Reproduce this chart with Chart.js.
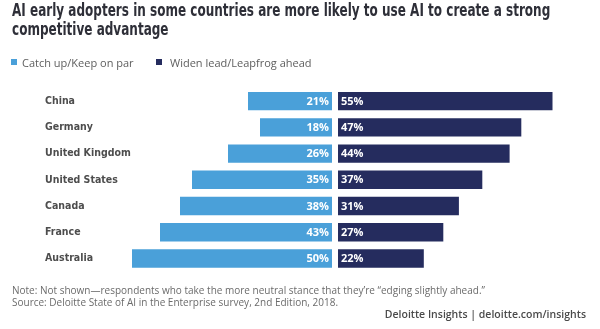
<!DOCTYPE html>
<html>
<head>
<meta charset="utf-8">
<script src="https://cdn.jsdelivr.net/npm/chart.js@4.4.1/dist/chart.umd.min.js"></script>
<style>
  html, body { margin: 0; padding: 0; background: #fff; }
  #wrap { position: relative; width: 600px; height: 329px; overflow: hidden; font-family: "Open Sans", sans-serif; }
  #chart { position: absolute; left: 0; top: 0; }
  .title { position: absolute; left: 12px; font-family: "Liberation Sans Narrow", "DejaVu Sans Condensed", sans-serif;
           font-weight: bold; font-size: 17px; line-height: 19px; color: #2e2f38; white-space: nowrap;
           transform-origin: left center; display: inline-block; }
  .legend { position: absolute; top: 55px; font-size: 11px; line-height: 15px; color: #5e5e5e; white-space: nowrap; }
  .legend i { position: absolute; top: 4px; width: 6px; height: 6px; }
  .legend span { position: absolute; top: 0; }
  .note { position: absolute; left: 12px; font-size: 10px; line-height: 12px; color: #6b6b6b; white-space: nowrap; }
  .brand { position: absolute; right: 14px; top: 308px; font-size: 10.5px; line-height: 12px; font-weight: 600; color: #4a4a4a; white-space: nowrap; }
</style>
</head>
<body>
<div id="wrap">
  <canvas id="chart" width="600" height="329"></canvas>
  <div class="title" id="t1" style="top:1px">AI early adopters in some countries are more likely to use AI to create a strong</div>
  <div class="title" id="t2" style="top:20px">competitive advantage</div>
  <div class="legend" style="left:0">
    <i style="left:11px;background:#4aa0d9"></i><span style="left:22px">Catch up/Keep on par</span>
    <i style="left:156px;background:#252c5e"></i><span style="left:170px">Widen lead/Leapfrog ahead</span>
  </div>
  <div class="note" style="top:284px">Note: Not shown—respondents who take the more neutral stance that they’re “edging slightly ahead.”</div>
  <div class="note" style="top:296px">Source: Deloitte State of AI in the Enterprise survey, 2nd Edition, 2018.</div>
  <div class="brand">Deloitte Insights | deloitte.com/insights</div>
</div>
<script>
const countries = ['China', 'Germany', 'United Kingdom', 'United States', 'Canada', 'France', 'Australia'];
const catchUp = [21, 18, 26, 35, 38, 43, 50];
const widenLead = [55, 47, 44, 37, 31, 27, 22];
const seriesNames = ['Catch up/Keep on par', 'Widen lead/Leapfrog ahead'];

const lightBlue = '#4aa0d9';
const navy = '#252c5e';
const narrowFont = "'Liberation Sans Narrow', 'DejaVu Sans Condensed', sans-serif";

// squeeze both title lines by the same factor so line one fits its width
const t1 = document.getElementById('t1');
const sx = 538 / t1.offsetWidth;
t1.style.transform = 'scaleX(' + sx + ')';
document.getElementById('t2').style.transform = 'scaleX(' + sx + ')';

// percentage labels written inside each bar, next to the centre line
const barLabels = {
  id: 'barLabels',
  afterDatasetsDraw(chart) {
    const ctx = chart.ctx;
    ctx.save();
    ctx.font = 'bold 11px "Open Sans", sans-serif';
    ctx.fillStyle = '#fff';
    ctx.textBaseline = 'middle';
    chart.data.datasets.forEach((ds, di) => {
      const meta = chart.getDatasetMeta(di);
      meta.data.forEach((bar, i) => {
        const txt = ds.data[i] + '%';
        if (di === 0) {
          ctx.textAlign = 'right';
          ctx.fillText(txt, bar.base - 3, bar.y + 0.5);
        } else {
          ctx.textAlign = 'left';
          ctx.fillText(txt, bar.base + 3, bar.y + 0.5);
        }
      });
    });
    ctx.restore();
  }
};

new Chart(document.getElementById('chart'), {
  type: 'bar',
  data: {
    labels: countries,
    datasets: [
      {
        label: seriesNames[0],
        data: catchUp,
        xAxisID: 'xl',
        backgroundColor: lightBlue,
        grouped: false,
        barPercentage: 0.7,
        categoryPercentage: 1
      },
      {
        label: seriesNames[1],
        data: widenLead,
        xAxisID: 'xr',
        backgroundColor: navy,
        grouped: false,
        barPercentage: 0.7,
        categoryPercentage: 1
      }
    ]
  },
  options: {
    indexAxis: 'y',
    responsive: false,
    animation: false,
    layout: { padding: { left: 45, right: 20, top: 88, bottom: 57.4 } },
    scales: {
      // left half runs leftwards from its own zero, right half rightwards, small gap between
      xl: { type: 'linear', position: 'bottom', display: false, reverse: true, min: -62, max: 50.25 },
      xr: { type: 'linear', position: 'bottom', display: false, min: -53.08, max: 62.05 },
      y: {
        afterFit(scale) { scale.width = 86; },
        grid: { display: false },
        border: { display: false },
        ticks: {
          crossAlign: 'far',
          color: '#4d4d4d',
          font: { family: narrowFont, weight: 'bold', size: 10.5 }
        }
      }
    },
    plugins: {
      legend: { display: false },
      tooltip: { enabled: false }
    }
  },
  plugins: [barLabels]
});
</script>
</body>
</html>
